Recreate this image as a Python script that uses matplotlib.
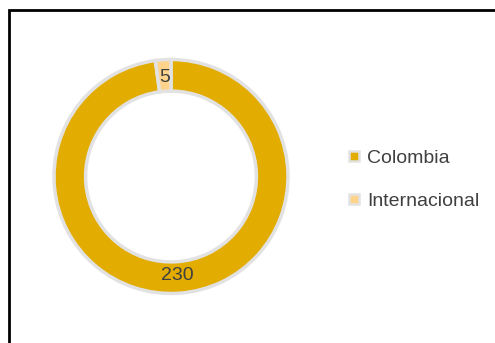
import matplotlib.pyplot as plt
from matplotlib.lines import Line2D
from matplotlib.patches import Rectangle

categories = ["Colombia", "Internacional"]
values = [230, 5]
colors = ["#E3AC00", "#FFD48A"]

W, H = 495, 343
fig = plt.figure(figsize=(W / 100, H / 100), dpi=100)
plt.rcParams['font.family'] = ['Liberation Sans', 'DejaVu Sans']

# chart frame (runs off the right and bottom edges)
fig.patches.append(Rectangle((9 / W, -0.1), 1.2, 1 - 10 / H + 0.1, transform=fig.transFigure,
                             fill=False, edgecolor='black', linewidth=2))

cx, cy, r = 171, 176.5, 117
ax = fig.add_axes([(cx - r) / W, (H - cy - r) / H, 2 * r / W, 2 * r / H])
ax.pie(values, colors=colors, startangle=90, counterclock=False,
       labels=[str(v) for v in values], labeldistance=0.85,
       wedgeprops=dict(width=0.27, edgecolor='#E2E2E2', linewidth=2.5),
       textprops=dict(color='#404040', fontsize=14, ha='center', va='center'))
ax.set_xlim(-1, 1)
ax.set_ylim(-1, 1)
ax.set_aspect('equal')
ax.axis('off')

handles = [Line2D([], [], linestyle='none', marker='s', markersize=7,
                  markerfacecolor=c, markeredgecolor='#E2E2E2', markeredgewidth=1.8)
           for c in colors]
fig.legend(handles, categories, loc='center left', bbox_to_anchor=(330 / W, 1 - 179.5 / H),
           frameon=False, fontsize=14, labelcolor='#404040', handlelength=0.7,
           handletextpad=0.3, labelspacing=1.3)

fig.savefig("out.png", dpi=100)
